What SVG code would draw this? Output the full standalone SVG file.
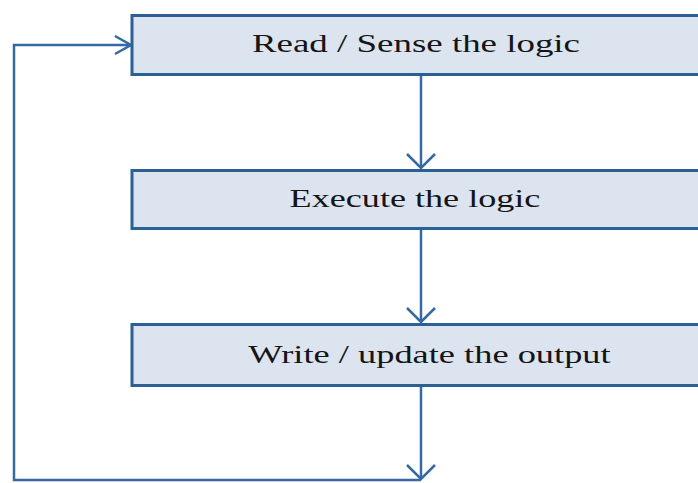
<svg xmlns="http://www.w3.org/2000/svg" width="698" height="483" viewBox="0 0 698 483">
<style>
.box{fill:#dce4f0;stroke:#2c5f94;stroke-width:3}
.lbl{font-family:"Liberation Serif","Times New Roman",serif;font-size:26px;fill:#151515;text-anchor:middle}
.conn{fill:none;stroke:#3569a3;stroke-width:2.5}
.head{fill:none;stroke:#3569a3;stroke-width:2.5;stroke-linejoin:miter}
</style>
<rect width="698" height="483" fill="#ffffff"/>
<g id="connectors">
<path class="conn" d="M421,76 V168"/>
<path class="head" d="M407,154 L421,168 L435,154"/>
<path class="conn" d="M421,230 V322"/>
<path class="head" d="M407,308 L421,322 L435,308"/>
<path class="conn" d="M421,387 V479"/>
<path class="head" d="M407,465 L421,479 L435,465"/>
<path class="conn" d="M421,480 H14 V45 H131"/>
<path class="head" d="M115,36 L131,45 L115,54"/>
</g>
<g id="read">
<rect class="box" x="132" y="15.5" width="580" height="59"/>
<text class="lbl" transform="translate(416,52) scale(1.42,1)">Read / Sense the logic</text>
</g>
<g id="execute">
<rect class="box" x="132" y="170.5" width="580" height="58"/>
<text class="lbl" transform="translate(415,207) scale(1.39,1)">Execute the logic</text>
</g>
<g id="write">
<rect class="box" x="132" y="324.5" width="580" height="61"/>
<text class="lbl" transform="translate(429.5,363) scale(1.4,1)">Write / update the output</text>
</g>
</svg>
